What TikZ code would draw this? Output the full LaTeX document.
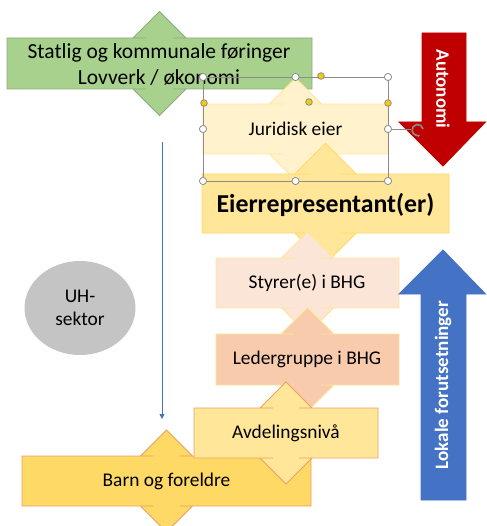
\documentclass[tikz,border=0pt]{standalone}
\usepackage{fontspec}
\setmainfont{Carlito}
\usetikzlibrary{shapes.geometric,arrows.meta}

\definecolor{statgreen}{HTML}{A9D18E}
\definecolor{statline}{HTML}{8FA87E}
\definecolor{jurfill}{HTML}{FFF2CC}
\definecolor{goldfill}{HTML}{FFE699}
\definecolor{goldline}{HTML}{FFD966}
\definecolor{styfill}{HTML}{FBE5D6}
\definecolor{ledfill}{HTML}{F8CBAD}
\definecolor{barnfill}{HTML}{FFD966}
\definecolor{orangeline}{HTML}{EDA060}
\definecolor{autored}{HTML}{C00000}
\definecolor{lokblue}{HTML}{4472C4}
\definecolor{uhgray}{HTML}{C4C4C4}
\definecolor{handlegray}{HTML}{8C8C8C}
\definecolor{handleyellow}{HTML}{F2CC0C}

\tikzset{
  pics/udbox/.style args={#1/#2}{code={
    \pgfmathsetmacro\udhead{1.04*#2}
    \pgfmathsetmacro\udneck{0.52*#2}
    \filldraw (-#1,-#2) -- (-\udneck,-#2) -- (-\udhead,-#2) -- (0,{-#2-\udhead})
      -- (\udhead,-#2) -- (\udneck,-#2) -- (#1,-#2) -- (#1,#2) -- (\udneck,#2)
      -- (\udhead,#2) -- (0,{#2+\udhead}) -- (-\udhead,#2) -- (-\udneck,#2)
      -- (-#1,#2) -- cycle;
  }},
  lbl/.style={align=center, inner sep=0pt, font=\fontsize{19.4}{23.5}\selectfont},
  arrowlbl/.style={inner sep=0pt, text=white, font=\bfseries\fontsize{19}{23}\selectfont},
  handle/.style={fill=white, draw=handlegray, line width=0.8pt},
  yhandle/.style={fill=handleyellow, draw=handlegray, line width=0.8pt},
}

\begin{document}
\begin{tikzpicture}[x=1pt, y=-1pt, line width=0.9pt, line join=miter]
  \useasboundingbox (0,0) rectangle (486,526);

  % Levels
  \pic[fill=barnfill, draw=orangeline] at (166.5,481) {udbox=144.5/25};
  \node[lbl] (barn) at (166.5,481) {Barn og foreldre};

  \pic[fill=statgreen, draw=statline] at (159.5,63.5) {udbox=152.5/25.5};
  \node[lbl, font=\fontsize{21.5}{26}\selectfont] (statlig) at (159,64)
    {Statlig og kommunale føringer\\Lovverk / økonomi};

  \pic[fill=jurfill, draw=goldfill] at (295.5,129) {udbox=92.5/25};
  \node[lbl] (juridisk) at (295.5,129) {Juridisk eier};

  \pic[fill=goldfill, draw=goldline] at (325.5,203.5) {udbox=123.5/29.5};
  \node[lbl, font=\bfseries\fontsize{25.8}{30}\selectfont] (eier) at (325.5,205)
    {Eierrepresentant(er)};

  \pic[fill=styfill, draw=goldfill] at (307.5,283) {udbox=91.5/25};
  \node[lbl] (styrer) at (307,283) {Styrer(e) i BHG};

  \pic[fill=ledfill, draw=goldfill] at (307.5,359.5) {udbox=91.5/25.5};
  \node[lbl] (leder) at (307,359.5) {Ledergruppe i BHG};

  \pic[fill=goldfill, draw=orangeline] at (286,433) {udbox=92/25};
  \node[lbl] (avdeling) at (286,433) {Avdelingsnivå};

  % Side arrows
  \filldraw[fill=autored, draw=autored] (422,33) -- (466,33) -- (466,122) -- (485.5,122)
    -- (443,166) -- (399,122) -- (422,122) -- cycle;
  \node[arrowlbl, rotate=-90] (autonomi) at (443,89) {Autonomi};

  \filldraw[fill=lokblue, draw=lokblue] (443,250) -- (485.5,294) -- (466,294) -- (466,500)
    -- (421,500) -- (421,294) -- (399,294) -- cycle;
  \node[arrowlbl, rotate=90] (lokale) at (443,385) {Lokale forutsetninger};

  % UH
  \node[ellipse, fill=uhgray, minimum width=111pt, minimum height=94pt,
    lbl] (uh) at (80,308) {UH-\\sektor};

  % Thin arrow
  \coordinate (linetop) at (162,142);
  \coordinate (linebot) at (162,419);
  \draw[lokblue, line width=0.8pt, -{Triangle[length=5pt, width=5pt]}] (linetop) -- (linebot);

  % Selection frame round Juridisk eier
  \draw[handlegray, line width=0.8pt] (203,77) rectangle (388,181);
  \draw[handlegray, line width=0.8pt] (388,129) -- (411,129);
  \draw[handlegray, line width=1.6pt, -{Stealth[length=3.5pt]}] (423,129)
    arc[start angle=10, end angle=300, radius=5.5pt];
  \foreach \x/\y in {203/77, 295.5/77, 388/77, 203/129, 388/129, 203/181, 295.5/181, 388/181}
    \filldraw[handle] (\x,\y) circle (3.6pt);
  \foreach \x/\y in {321/76, 204/103, 309/102, 388/103}
    \filldraw[yhandle] (\x,\y) circle (3.3pt);
\end{tikzpicture}
\end{document}
